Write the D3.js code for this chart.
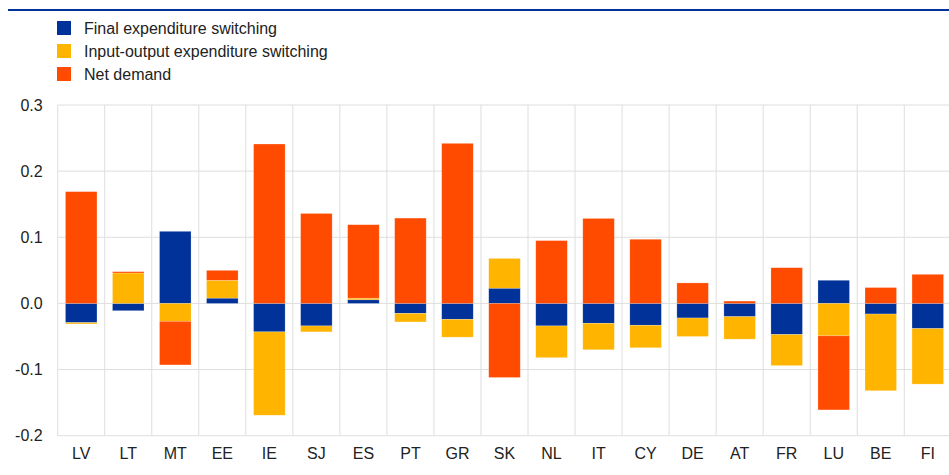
<!DOCTYPE html>
<html>
<head>
<meta charset="utf-8">
<script src="https://cdn.jsdelivr.net/npm/d3@7"></script>
<style>
  body { margin: 0; background: #fff; }
  svg { font-family: "Liberation Sans", Arial, sans-serif; }
</style>
</head>
<body>
<svg id="chart" width="949" height="475"></svg>
<script>
// data
var countries = ["LV", "LT", "MT", "EE", "IE", "SJ", "ES", "PT", "GR", "SK", "NL", "IT", "CY", "DE", "AT", "FR", "LU", "BE", "FI"];
var finalSwitching = [-0.029, -0.011, 0.109, 0.008, -0.043, -0.034, 0.0055, -0.015, -0.024, 0.023, -0.034, -0.030, -0.033, -0.022, -0.020, -0.047, 0.035, -0.016, -0.038];
var ioSwitching = [-0.002, 0.046, -0.027, 0.027, -0.126, -0.009, 0.0025, -0.013, -0.027, 0.045, -0.048, -0.040, -0.034, -0.028, -0.034, -0.047, -0.049, -0.116, -0.084];
var netDemand = [0.169, 0.002, -0.066, 0.015, 0.241, 0.136, 0.111, 0.129, 0.242, -0.112, 0.095, 0.1285, 0.097, 0.031, 0.0035, 0.054, -0.112, 0.024, 0.044];
var yTicks = [-0.2, -0.1, 0.0, 0.1, 0.2, 0.3];

var seriesNames = ["Final expenditure switching", "Input-output expenditure switching", "Net demand"];
var seriesColors = ["#003299", "#FFB400", "#FF4B00"];
var seriesValues = [finalSwitching, ioSwitching, netDemand];

var svg = d3.select("#chart");

// top rule
svg.append("line")
  .attr("x1", 8).attr("x2", 949).attr("y1", 10).attr("y2", 10)
  .attr("stroke", "#003299").attr("stroke-width", 2);

// legend
var legend = svg.append("g").attr("transform", "translate(57,21)");
seriesNames.forEach(function(name, i) {
  var row = legend.append("g").attr("transform", "translate(0," + (i * 23) + ")");
  row.append("rect").attr("width", 14).attr("height", 14).attr("fill", seriesColors[i]);
  row.append("text").attr("x", 27).attr("y", 12.5)
    .attr("font-size", 16).attr("fill", "#222").text(name);
});

var x = d3.scaleBand().domain(countries).range([57.7, 951.3]).paddingInner(0.33).paddingOuter(0.165);
var xGrid = d3.scaleBand().domain(countries).range([57.7, 951.3]);
var y = d3.scaleLinear().domain([-0.2, 0.3]).range([435.7, 105]);

var grid = svg.append("g");
// horizontal gridlines
grid.selectAll("line.h").data(yTicks).enter().append("line")
  .attr("class", "h")
  .attr("x1", 57.7).attr("x2", 951)
  .attr("y1", function(d) { return y(d); }).attr("y2", function(d) { return y(d); })
  .attr("stroke", "#dedede").attr("stroke-width", 1);
// vertical gridlines at band edges
grid.selectAll("line.v").data(countries).enter().append("line")
  .attr("class", "v")
  .attr("x1", function(d) { return xGrid(d); }).attr("x2", function(d) { return xGrid(d); })
  .attr("y1", y(0.3)).attr("y2", y(-0.2))
  .attr("stroke", "#dedede").attr("stroke-width", 1);

// stacked bars: positives upward, negatives downward, in series order
var segments = [];
countries.forEach(function(c, i) {
  var pos = 0, neg = 0;
  seriesValues.forEach(function(vals, s) {
    var v = vals[i];
    var y0, y1;
    if (v >= 0) { y0 = pos; y1 = pos + v; pos = y1; }
    else { y0 = neg; y1 = neg + v; neg = y1; }
    segments.push({ country: c, s: s, y0: y0, y1: y1 });
  });
});

svg.append("g").selectAll("rect").data(segments).enter().append("rect")
  .attr("x", function(d) { return x(d.country); })
  .attr("width", x.bandwidth())
  .attr("y", function(d) { return y(Math.max(d.y0, d.y1)); })
  .attr("height", function(d) { return Math.abs(y(d.y0) - y(d.y1)); })
  .attr("fill", function(d) { return seriesColors[d.s]; })
  .attr("stroke", "#fff").attr("stroke-opacity", 0.35).attr("stroke-width", 0.6);

// y axis labels
var yAxis = d3.axisLeft(y).tickValues(yTicks).tickFormat(d3.format(".1f")).tickSize(0).tickPadding(15);
var gy = svg.append("g").attr("transform", "translate(57.7,0)").call(yAxis);
gy.select(".domain").remove();
gy.selectAll("text").attr("font-size", 16).attr("fill", "#222")
  .attr("font-family", "Liberation Sans, Arial, sans-serif")
  .text(function(d) { return d3.format(".1f")(d).replace("−", "-"); });

// x axis labels
var xAxis = d3.axisBottom(xGrid).tickSize(0).tickPadding(12);
var gx = svg.append("g").attr("transform", "translate(0," + y(-0.2) + ")").call(xAxis);
gx.select(".domain").remove();
gx.selectAll("text").attr("font-size", 16).attr("fill", "#222")
  .attr("font-family", "Liberation Sans, Arial, sans-serif");
</script>
</body>
</html>
